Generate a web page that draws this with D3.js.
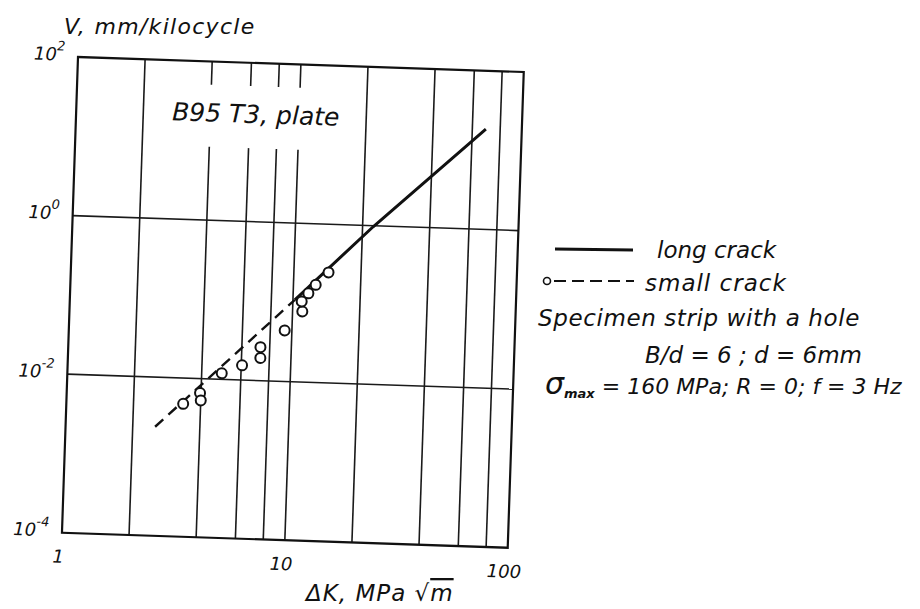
<!DOCTYPE html>
<html>
<head>
<meta charset="utf-8">
<script src="https://cdn.jsdelivr.net/npm/d3@7"></script>
<style>
  body { margin: 0; background: #fff; }
  svg { display: block; }
  text { font-family: "DejaVu Sans", sans-serif; font-style: italic; fill: #111; }
</style>
</head>
<body>
<div id="chart"></div>
<script>
// values (dK in MPa*sqrt(m), V in mm/kilocycle)
var longK = [10.2, 22.3, 69];
var longV = [0.108, 0.97, 18.4];

var smallLineK = [2.52, 10.2];
var smallLineV = [0.00237, 0.108];

var pointK = [3.34, 3.96, 4.0, 4.92, 6.05, 7.27, 7.29, 9.28, 11.06, 10.95, 11.7, 12.58, 14.3];
var pointV = [0.00474, 0.00659, 0.00532, 0.01194, 0.01535, 0.0264, 0.0193, 0.0439, 0.0775, 0.1035, 0.132, 0.170, 0.247];

var gridK = [2, 4, 6, 8, 10, 20, 40, 60, 80];
var gappedK = [4, 6, 8, 10];       // these lines stop around the label
var gapV = [8.4, 51];
var gridV = [1e-2, 1];

var yTicks = [1e2, 1, 1e-2, 1e-4];
var yTickExp = ['2', '0', '-2', '-4'];
var xTicks = [1, 10, 100];
var xTickLabels = ['1', '10', '100'];

var W = 920, H = 609;
var pw = 446, ph = 476;

var svg = d3.select('#chart').append('svg')
  .attr('width', W).attr('height', H);

// the scan is turned a little, so the plot frame is too
var g = svg.append('g').attr('transform', 'translate(78,57) rotate(1.93)');

var x = d3.scaleLog().domain([1, 100]).range([0, pw]);
var y = d3.scaleLog().domain([1e-4, 1e2]).range([ph, 0]);

// vertical grid
gridK.forEach(function(k) {
  if (gappedK.indexOf(k) >= 0) {
    g.append('line').attr('x1', x(k)).attr('x2', x(k))
      .attr('y1', 0).attr('y2', y(gapV[1]));
    g.append('line').attr('x1', x(k)).attr('x2', x(k))
      .attr('y1', y(gapV[0])).attr('y2', ph);
  } else {
    g.append('line').attr('x1', x(k)).attr('x2', x(k))
      .attr('y1', 0).attr('y2', ph);
  }
});
gridV.forEach(function(v) {
  g.append('line').attr('x1', 0).attr('x2', pw)
    .attr('y1', y(v)).attr('y2', y(v));
});
g.selectAll('line').attr('stroke', '#1a1a1a').attr('stroke-width', 1.6);

g.append('rect').attr('x', 0).attr('y', 0).attr('width', pw).attr('height', ph)
  .attr('fill', 'none').attr('stroke', '#111').attr('stroke-width', 2.2);

var line = d3.line()
  .x(function(d) { return x(d[0]); })
  .y(function(d) { return y(d[1]); });

g.append('path')
  .datum(smallLineK.map(function(k, i) { return [k, smallLineV[i]]; }))
  .attr('d', line).attr('fill', 'none')
  .attr('stroke', '#111').attr('stroke-width', 2.4)
  .attr('stroke-dasharray', '11,7');

g.append('path')
  .datum(longK.map(function(k, i) { return [k, longV[i]]; }))
  .attr('d', line).attr('fill', 'none')
  .attr('stroke', '#111').attr('stroke-width', 3);

g.selectAll('circle.pt')
  .data(pointK.map(function(k, i) { return [k, pointV[i]]; }))
  .enter().append('circle').attr('class', 'pt')
  .attr('cx', function(d) { return x(d[0]); })
  .attr('cy', function(d) { return y(d[1]); })
  .attr('r', 5)
  .attr('fill', '#fff').attr('stroke', '#111').attr('stroke-width', 2);

// tick labels
yTicks.forEach(function(v, i) {
  var t = g.append('text').attr('x', -13).attr('y', y(v) + 4)
    .attr('text-anchor', 'end').style('font-size', '18px');
  t.append('tspan').text('10');
  t.append('tspan').attr('dy', -10).style('font-size', '13px').text(yTickExp[i]);
});
xTicks.forEach(function(v, i) {
  g.append('text').attr('x', x(v) - 3).attr('y', ph + 30)
    .attr('text-anchor', 'middle').style('font-size', '18px')
    .text(xTickLabels[i]);
});

g.append('text').attr('x', 96).attr('y', 60)
  .style('font-size', '25px').text('B95 T3, plate');

// axis titles
svg.append('text').attr('x', 64).attr('y', 34)
  .style('font-size', '22px').style('letter-spacing', '1.3px').text('V, mm/kilocycle');

var xt = svg.append('text').attr('x', 306).attr('y', 601)
  .style('font-size', '23px').style('letter-spacing', '1px');
xt.append('tspan').text('\u0394K, MPa \u221A');
xt.append('tspan').style('text-decoration', 'overline').text('m');

// legend + notes
var lg = svg.append('g');
lg.append('line').attr('x1', 555).attr('x2', 633).attr('y1', 249).attr('y2', 250)
  .attr('stroke', '#111').attr('stroke-width', 3);
lg.append('text').attr('x', 657).attr('y', 258).style('font-size', '23px').text('long crack');

lg.append('circle').attr('cx', 547).attr('cy', 281).attr('r', 3.5)
  .attr('fill', '#fff').attr('stroke', '#111').attr('stroke-width', 1.6);
lg.append('line').attr('x1', 554).attr('x2', 634).attr('y1', 281).attr('y2', 281)
  .attr('stroke', '#111').attr('stroke-width', 2).attr('stroke-dasharray', '12,6');
lg.append('text').attr('x', 645).attr('y', 291).style('font-size', '23px')
  .style('letter-spacing', '1px').text('small crack');

lg.append('text').attr('x', 538).attr('y', 326).style('font-size', '23px')
  .style('letter-spacing', '0.6px').text('Specimen strip with a hole');
lg.append('text').attr('x', 645).attr('y', 363).style('font-size', '23px')
  .text('B/d = 6 ; d = 6mm');

var s = lg.append('text').attr('x', 545).attr('y', 394).style('font-size', '22px');
s.append('tspan').style('font-size', '30px').text('\u03C3');
s.append('tspan').attr('dy', 4).style('font-size', '13px').style('font-weight', 'bold').text('max');
s.append('tspan').attr('dy', -4).text(' = 160 MPa; R = 0; f = 3 Hz');
</script>
</body>
</html>
